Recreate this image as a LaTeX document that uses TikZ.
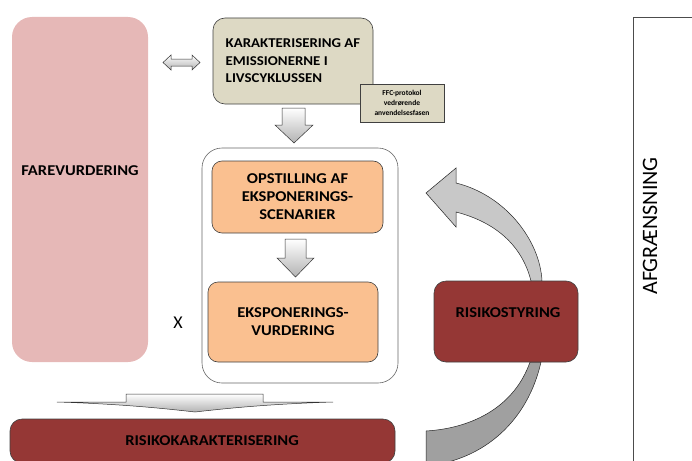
\documentclass[tikz,border=0pt]{standalone}
\usepackage{fontspec}
\setmainfont{Carlito}
\newfontfamily\lblfont[FakeStretch=1.1]{Carlito}
\definecolor{pinkbox}{HTML}{E6B8B7}
\definecolor{tanbox}{HTML}{DDD9C4}
\definecolor{orangebox}{HTML}{FAC090}
\definecolor{redbox}{HTML}{953735}
\definecolor{lightarrow}{HTML}{C8C8C8}
\definecolor{darkarrow}{HTML}{A0A0A0}
\begin{document}
\begin{tikzpicture}[x=1pt,y=-1pt,
  bx/.style={draw=black!75, line width=0.6pt, rounded corners=12pt, inner sep=0pt},
  lbl/.style={font=\lblfont\bfseries\fontsize{15}{18}\selectfont, align=center, inner sep=0pt},
  blockarrow/.style={draw=black!80, line width=0.5pt, top color=white, bottom color=black!30},
  curvearrow/.style={draw=black!85, line width=0.5pt}]
\useasboundingbox (0,0) rectangle (692,460);
% curved arrows (behind)
\draw[curvearrow, fill=lightarrow] (542,281) .. controls (540,240) and (505,195) .. (456,183)
  -- (456,168) -- (426,193) -- (456,227) -- (456,212)
  .. controls (495,222) and (522,245) .. (531,281) -- cycle;
\draw[curvearrow, fill=darkarrow] (530,362) .. controls (515,405) and (475,428) .. (426,431)
  -- (426,466) .. controls (485,460) and (528,420) .. (541,362) -- cycle;
% boxes
\node[bx, draw=none, fill=pinkbox, rounded corners=20pt, minimum width=136pt, minimum height=345pt] (fare) at (80,189.5) {};
\node[lbl] (faret) at (80,171) {FAREVURDERING};
\node[bx, fill=tanbox, minimum width=160pt, minimum height=86pt, align=left,
  font=\lblfont\bfseries\fontsize{13.5}{17.5}\selectfont] (kar) at (293,61) {KARAKTERISERING AF\\EMISSIONERNE I\\LIVSCYKLUSSEN};
\node[draw=black!75, line width=0.6pt, fill=tanbox, minimum width=84pt, minimum height=38pt, inner sep=0pt,
  align=center, font=\bfseries\fontsize{7.5}{10}\selectfont] (ffc) at (402,103) {FFC-protokol\\vedrørende\\anvendelsesfasen};
\node[bx, draw=black!60, rounded corners=20pt, minimum width=196pt, minimum height=235pt] (cont) at (300,265.5) {};
\node[bx, fill=orangebox, rounded corners=10pt, minimum width=171pt, minimum height=72pt, lbl] (ops) at (297.5,197) {OPSTILLING AF\\EKSPONERINGS-\\SCENARIER};
\node[bx, fill=orangebox, rounded corners=10pt, minimum width=170pt, minimum height=80pt, lbl] (eksp) at (293,322) {EKSPONERINGS-\\VURDERING};
\node[font=\fontsize{18}{20}\selectfont, inner sep=0pt] (x) at (178,323) {X};
\node[bx, fill=redbox, minimum width=144pt, minimum height=81pt] (styr) at (506,321.5) {};
\node[lbl] (styrt) at (508,313) {RISIKOSTYRING};
\node[bx, fill=redbox, minimum width=385pt, minimum height=44pt] (kat) at (202.5,441) {};
\node[lbl] (katt) at (212,441) {RISIKOKARAKTERISERING};
\node[draw=black!70, line width=0.6pt, minimum width=70pt, minimum height=460pt, inner sep=0pt] (afg) at (668,247) {};
\node[rotate=90, font=\fontsize{22}{24}\selectfont, inner sep=0pt] (afgt) at (650,226) {AFGRÆNSNING};
% block arrows
\draw[blockarrow] (163,62.5) -- (171,55) -- (171,59) -- (192,59) -- (192,55) -- (200,62.5)
  -- (192,70) -- (192,66) -- (171,66) -- (171,70) -- cycle;
\draw[blockarrow] (282,108) -- (305,108) -- (305,125) -- (313,125) -- (294,143) -- (275,125) -- (282,125) -- cycle;
\draw[blockarrow] (285,239) -- (306,239) -- (306,258) -- (314,258) -- (295.5,277) -- (277,258) -- (285,258) -- cycle;
\draw[blockarrow] (126,394) -- (263,394) -- (263,402) -- (333,402)
  .. controls (270,404) and (230,408) .. (195,412)
  .. controls (160,408) and (120,404) .. (57,402) -- (126,402) -- cycle;
\end{tikzpicture}
\end{document}
